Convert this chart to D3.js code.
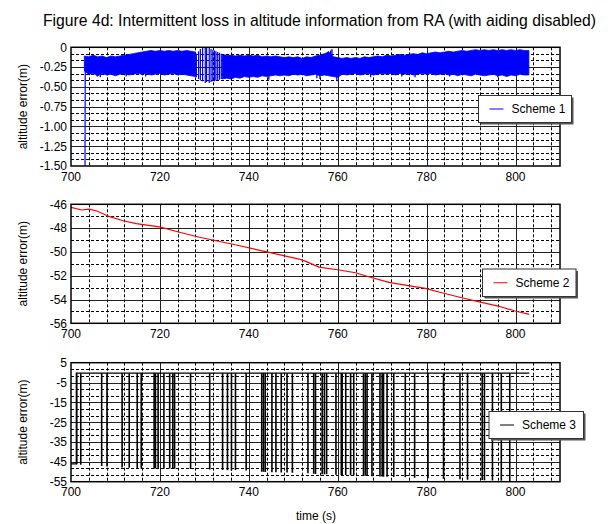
<!DOCTYPE html>
<html><head><meta charset="utf-8">
<script src="https://cdn.jsdelivr.net/npm/d3@7"></script>
<style>
body{margin:0;background:#fff}
svg{display:block}
text{font-family:"Liberation Sans",Arial,Helvetica,sans-serif;fill:#000}
</style>
</head><body>
<svg id="chart" width="612" height="524"></svg>
<script>
// ---------------- DATA ----------------
const titleText = "Figure 4d: Intermittent loss in altitude information from RA (with aiding disabled)";
const xLabelText = "time (s)";
const yLabelText = "altitude error(m)";
const xDomain = [700, 810];
const xTickValues = [700, 720, 740, 760, 780, 800];

// Scheme 1 (blue) – noisy band read as upper / lower envelope, one value per second from 703 s
const s1Start = 703;
const s1Upper = [-0.11,-0.12,-0.10,-0.12,-0.11,-0.13,-0.11,-0.12,-0.11,-0.10,-0.09,-0.08,-0.07,-0.06,-0.05,-0.04,-0.05,-0.04,-0.05,-0.04,-0.05,-0.04,-0.05,-0.04,-0.05,-0.06,
  null,null,null,null,null,
  -0.09,-0.10,-0.10,-0.11,-0.10,-0.11,-0.10,-0.11,-0.10,-0.12,-0.11,-0.12,-0.11,-0.12,-0.13,-0.12,-0.13,-0.12,-0.14,-0.12,-0.13,-0.11,-0.10,-0.08,-0.06,-0.12,
  -0.13,-0.14,-0.13,-0.14,-0.13,-0.14,-0.12,-0.13,-0.12,-0.11,-0.12,-0.10,-0.11,-0.10,-0.09,-0.10,-0.09,-0.08,-0.09,-0.07,-0.08,-0.07,-0.06,-0.07,-0.06,-0.05,
  -0.06,-0.05,-0.04,-0.05,-0.04,-0.03,-0.04,-0.03,-0.04,-0.03,-0.04,-0.03,-0.04,-0.03,-0.04,-0.03,-0.04,-0.04];
const s1Lower = [-0.30,-0.34,-0.33,-0.36,-0.33,-0.35,-0.34,-0.36,-0.34,-0.33,-0.35,-0.34,-0.33,-0.34,-0.33,-0.35,-0.34,-0.33,-0.35,-0.34,-0.33,-0.35,-0.34,-0.35,-0.36,-0.37,
  null,null,null,null,null,
  -0.40,-0.39,-0.40,-0.38,-0.39,-0.37,-0.38,-0.37,-0.38,-0.36,-0.37,-0.36,-0.35,-0.36,-0.35,-0.36,-0.34,-0.35,-0.34,-0.36,-0.35,-0.34,-0.36,-0.35,-0.36,-0.37,
  -0.38,-0.34,-0.35,-0.34,-0.33,-0.35,-0.34,-0.33,-0.35,-0.34,-0.33,-0.34,-0.33,-0.35,-0.33,-0.34,-0.33,-0.35,-0.34,-0.33,-0.34,-0.33,-0.35,-0.34,-0.33,-0.35,
  -0.34,-0.36,-0.34,-0.35,-0.36,-0.34,-0.35,-0.36,-0.35,-0.34,-0.36,-0.35,-0.37,-0.35,-0.36,-0.34,-0.35,-0.35];
// oscillating burst around 728–734 s
const s1OscTime  = [728.2,728.7,729.1,729.6,730.2,730.5,731.1,731.5,731.9,732.3,732.6,733.0,733.4,733.8];
const s1OscUpper = [-0.08,-0.05,-0.02,-0.01,0.00,0.00,-0.01,-0.02,-0.03,-0.04,-0.05,-0.06,-0.07,-0.08];
const s1OscLower = [-0.38,-0.40,-0.42,-0.43,-0.45,-0.44,-0.45,-0.44,-0.43,-0.43,-0.42,-0.42,-0.41,-0.40];
// isolated excursions beyond the band edges
const s1SpikeTime   = [705.9,706.6,712.4,716.8,744.5,755.3,756.0,757.9,758.4,758.7,759.8,767.4,774.4,777.4,785.2,796.0];
const s1SpikeTop    = [-0.20,-0.20,-0.20,-0.20,-0.20,-0.20,-0.20,-0.05,-0.04,-0.02,-0.15,-0.20,-0.20,-0.20,-0.20,-0.20];
const s1SpikeBottom = [-0.37,-0.38,-0.37,-0.37,-0.41,-0.39,-0.40,-0.30,-0.30,-0.30,-0.43,-0.38,-0.37,-0.38,-0.37,-0.38];
// initial transient line entering from below
const s1InitTime = [703.15, 703.2];
const s1InitVal  = [-1.60, -0.20];

// Scheme 2 (red)
const s2Time = [700,702.4,704.1,705.8,708.7,711.7,714.7,719.9,724.4,728.9,736.4,743.8,751.3,752.8,755.8,760.3,764.0,766.2,771.5,775.9,779.7,783.4,787.9,791.6,796.1,799.9,803.1];
const s2Val  = [-46.25,-46.48,-46.40,-46.56,-47.04,-47.38,-47.63,-47.90,-48.35,-48.77,-49.36,-49.98,-50.60,-50.80,-51.28,-51.52,-51.75,-52.00,-52.56,-52.84,-53.06,-53.43,-53.85,-54.18,-54.55,-54.97,-55.25];

// Scheme 3 (black) – baseline with drop-outs
const s3Start = [700, -46.0];
const s3Base = -0.3;
const s3End = 803.1;
const s3DropTime = [701.3,702.2,706.9,708.1,711.5,713.1,714.9,715.8,718.7,719.0,719.6,720.9,722.2,722.9,723.3,726.9,731.2,734.1,735.2,736.1,737.0,739.4,742.9,743.3,743.7,745.2,746.1,747.3,748.6,749.8,753.3,754.6,755.0,756.5,757.0,757.5,759.6,760.8,761.0,761.8,762.9,763.6,765.8,766.2,766.6,767.7,769.5,770.0,770.3,771.1,772.6,775.2,777.3,780.3,783.8,787.5,789.2,792.5,793.0,794.8,796.8,798.7];
const s3DropVal  = [-46.2,-46.5,-47.1,-47.3,-47.9,-48.0,-48.2,-48.3,-48.3,-48.4,-48.4,-48.5,-48.3,-48.4,-48.5,-48.6,-48.8,-49.1,-49.2,-49.3,-49.1,-49.4,-50.0,-50.0,-50.1,-50.2,-50.2,-50.3,-50.3,-50.5,-50.8,-51.0,-51.1,-51.2,-51.3,-51.3,-51.5,-51.6,-51.6,-51.6,-51.7,-51.8,-52.0,-52.0,-52.1,-52.2,-52.4,-52.4,-52.5,-52.5,-52.6,-52.8,-53.0,-53.2,-53.5,-53.8,-54.0,-54.2,-54.3,-54.4,-54.5,-54.7];

const p1YTicks = [0,-0.25,-0.5,-0.75,-1.0,-1.25,-1.5];
const p1YLabels = ["0","-0.25","-0.50","-0.75","-1.00","-1.25","-1.50"];
const p2YTicks = [-46,-48,-50,-52,-54,-56];
const p3YTicks = [5,-5,-15,-25,-35,-45,-55];
const legendLabels = ["Scheme 1","Scheme 2","Scheme 3"];
const seriesColors = ["#0000ff","#ff0000","#000000"];

// ---------------- LAYOUT ----------------
const svg = d3.select("#chart");
const L = 71, R = 560;
const panels = [
  {top:47.3, bottom:166, domain:[0,-1.5], ticks:p1YTicks, labels:p1YLabels, minorDiv:3,
   legend:{x:478.5,y:95.5,w:93,h:27}},
  {top:204.3, bottom:323.3, domain:[-46,-56], ticks:p2YTicks, labels:p2YTicks.map(String), minorDiv:2,
   legend:{x:482.5,y:269,w:93.5,h:27.5}},
  {top:362.7, bottom:481.7, domain:[5,-55], ticks:p3YTicks, labels:p3YTicks.map(String), minorDiv:3,
   legend:{x:489,y:411.5,w:94.5,h:27}}
];

const x = d3.scaleLinear().domain(xDomain).range([L, R]);
const snap = v => Math.round(v) + 0.5;

svg.append("rect").attr("width",612).attr("height",524).attr("fill","#fff");

const title = svg.append("text").attr("x",319.5).attr("y",26).attr("text-anchor","middle")
  .attr("font-size","13px").text(titleText);
const tw = title.node().getComputedTextLength();
title.attr("font-size", (13 * 553 / tw).toFixed(2) + "px");

panels.forEach((p, pi) => {
  const y = d3.scaleLinear().domain(p.domain).range([p.top, p.bottom]);
  const g = svg.append("g");
  const clipId = "clip" + pi;
  svg.append("clipPath").attr("id", clipId).append("rect")
    .attr("x", L).attr("y", p.top).attr("width", R - L).attr("height", p.bottom - p.top);

  // minor x grid (every 4 s)
  const xMinor = d3.range(xDomain[0], xDomain[1] + 0.001, 4).filter(v => v % 20 !== 0 && v < xDomain[1]);
  g.selectAll(".xm").data(xMinor).join("line")
    .attr("x1", d => snap(x(d))).attr("x2", d => snap(x(d)))
    .attr("y1", p.top).attr("y2", p.bottom)
    .attr("stroke", "#000").attr("stroke-width", 1).attr("stroke-dasharray", "3,2");
  // minor y grid
  const step = (p.ticks[0] - p.ticks[1]) / p.minorDiv;
  const yMinor = [];
  for (let i = 0; i < p.ticks.length - 1; i++)
    for (let k = 1; k < p.minorDiv; k++) yMinor.push(p.ticks[i] - k * step);
  g.selectAll(".ym").data(yMinor).join("line")
    .attr("x1", L).attr("x2", R)
    .attr("y1", d => snap(y(d))).attr("y2", d => snap(y(d)))
    .attr("stroke", "#000").attr("stroke-width", 1).attr("stroke-dasharray", "3,2");
  // major grid
  g.selectAll(".xM").data(xTickValues.slice(1)).join("line")
    .attr("x1", d => snap(x(d))).attr("x2", d => snap(x(d)))
    .attr("y1", p.top).attr("y2", p.bottom)
    .attr("stroke", "#222").attr("stroke-width", 1);
  g.selectAll(".yM").data(p.ticks.slice(1, -1)).join("line")
    .attr("x1", L).attr("x2", R)
    .attr("y1", d => snap(y(d))).attr("y2", d => snap(y(d)))
    .attr("stroke", "#222").attr("stroke-width", 1);

  // data
  const dg = svg.append("g").attr("clip-path", `url(#${clipId})`);
  if (pi === 0) {
    const s1 = s1Upper.map((u, i) => ({t: s1Start + i, u, l: s1Lower[i]}));
    const area = d3.area().defined(d => d.u !== null)
      .x(d => x(d.t)).y0(d => y(d.l)).y1(d => y(d.u));
    dg.append("path").datum(s1).attr("d", area)
      .attr("fill", seriesColors[0]).attr("stroke", seriesColors[0]).attr("stroke-width", 0.8);
    dg.selectAll(".osc").data(s1OscTime).join("line")
      .attr("x1", d => x(d)).attr("x2", d => x(d))
      .attr("y1", (d, i) => y(s1OscUpper[i])).attr("y2", (d, i) => y(s1OscLower[i]))
      .attr("stroke", seriesColors[0]).attr("stroke-width", 1.2);
    dg.selectAll(".spk").data(s1SpikeTime).join("line")
      .attr("x1", d => x(d)).attr("x2", d => x(d))
      .attr("y1", (d, i) => y(s1SpikeTop[i])).attr("y2", (d, i) => y(s1SpikeBottom[i]))
      .attr("stroke", seriesColors[0]).attr("stroke-width", 1.3);
    dg.append("path").datum(s1InitTime.map((t, i) => [t, s1InitVal[i]]))
      .attr("d", d3.line().x(d => x(d[0])).y(d => y(d[1])))
      .attr("fill", "none").attr("stroke", seriesColors[0]).attr("stroke-width", 1.2);
  } else if (pi === 1) {
    dg.append("path").datum(s2Time.map((t, i) => [t, s2Val[i]]))
      .attr("d", d3.line().x(d => x(d[0])).y(d => y(d[1])))
      .attr("fill", "none").attr("stroke", seriesColors[1]).attr("stroke-width", 1.2);
  } else {
    dg.append("path").datum([[s3Start[0], s3Start[1]], [s3DropTime[0] - 0.1, s3Start[1]], [s3DropTime[0] - 0.1, s3Base], [s3End, s3Base]])
      .attr("d", d3.line().x(d => x(d[0])).y(d => y(d[1])))
      .attr("fill", "none").attr("stroke", seriesColors[2]).attr("stroke-width", 1.3);
    dg.selectAll(".drop").data(s3DropTime).join("line")
      .attr("x1", d => x(d)).attr("x2", d => x(d))
      .attr("y1", y(s3Base)).attr("y2", (d, i) => y(s3DropVal[i]))
      .attr("stroke", seriesColors[2]).attr("stroke-width", 1.6);
  }

  // border
  svg.append("rect").attr("x", L).attr("y", p.top).attr("width", R - L).attr("height", p.bottom - p.top)
    .attr("fill", "none").attr("stroke", "#000").attr("stroke-width", 1.5);

  // tick labels
  svg.selectAll(null).data(p.ticks).join("text")
    .attr("x", L - 4).attr("y", d => y(d) + 4.3).attr("text-anchor", "end")
    .attr("font-size", "12px").text((d, i) => p.labels[i]);
  svg.selectAll(null).data(xTickValues).join("text")
    .attr("x", d => x(d)).attr("y", p.bottom + 14.6).attr("text-anchor", "middle")
    .attr("font-size", "12px").text(d => d);

  // y label
  svg.append("text").attr("transform", `translate(26.5,${(p.top + p.bottom) / 2}) rotate(-90)`)
    .attr("text-anchor", "middle").attr("font-size", "12px").text(yLabelText);

  // legend
  const lg = p.legend;
  svg.append("rect").attr("x", lg.x + 2).attr("y", lg.y + 2).attr("width", lg.w).attr("height", lg.h).attr("fill", "#555");
  svg.append("rect").attr("x", lg.x).attr("y", lg.y).attr("width", lg.w).attr("height", lg.h)
    .attr("fill", "#fff").attr("stroke", "#333").attr("stroke-width", 1);
  svg.append("line").attr("x1", lg.x + 11).attr("x2", lg.x + 25)
    .attr("y1", lg.y + lg.h / 2).attr("y2", lg.y + lg.h / 2)
    .attr("stroke", seriesColors[pi]).attr("stroke-width", 1);
  svg.append("text").attr("x", lg.x + 33).attr("y", lg.y + lg.h / 2 + 4.3)
    .attr("font-size", "12px").text(legendLabels[pi]);
});

svg.append("text").attr("x", 316).attr("y", 520).attr("text-anchor", "middle")
  .attr("font-size", "12px").text(xLabelText);
</script>
</body></html>
